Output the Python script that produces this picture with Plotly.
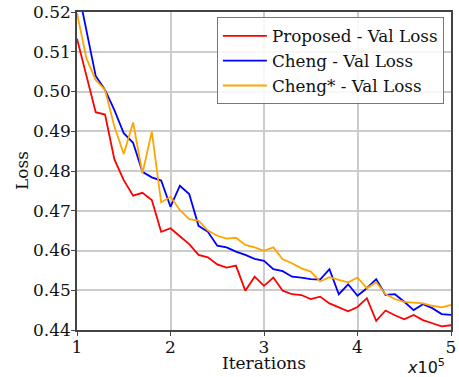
import plotly.graph_objects as go

iterations = [round(1.0 + 0.1 * i, 1) for i in range(41)]

proposed = [0.5133, 0.5040, 0.4948, 0.4942, 0.4829, 0.4777, 0.4738, 0.4745, 0.4727, 0.4647,
            0.4656, 0.4636, 0.4616, 0.4589, 0.4583, 0.4565, 0.4557, 0.4562, 0.4499, 0.4534,
            0.4511, 0.4532, 0.4499, 0.4490, 0.4488, 0.4478, 0.4484, 0.4467, 0.4457, 0.4447,
            0.4458, 0.4480, 0.4423, 0.4449, 0.4437, 0.4427, 0.4438, 0.4425, 0.4417, 0.4409,
            0.4412]

cheng = [0.5270, 0.5155, 0.5039, 0.5004, 0.4953, 0.4895, 0.4871, 0.4798, 0.4784, 0.4776,
         0.4710, 0.4763, 0.4742, 0.4662, 0.4647, 0.4612, 0.4608, 0.4597, 0.4589, 0.4579,
         0.4574, 0.4553, 0.4548, 0.4534, 0.4532, 0.4528, 0.4527, 0.4553, 0.4490, 0.4515,
         0.4486, 0.4505, 0.4528, 0.4488, 0.4490, 0.4471, 0.4450, 0.4465, 0.4455, 0.4440,
         0.4438]

cheng_star = [0.5197, 0.5084, 0.5029, 0.5004, 0.4912, 0.4843, 0.4922, 0.4794, 0.4899, 0.4721,
              0.4735, 0.4702, 0.4679, 0.4675, 0.4650, 0.4637, 0.4630, 0.4632, 0.4614, 0.4608,
              0.4599, 0.4608, 0.4578, 0.4568, 0.4555, 0.4547, 0.4522, 0.4533, 0.4526, 0.4520,
              0.4532, 0.4505, 0.4520, 0.4490, 0.4478, 0.4471, 0.4469, 0.4467, 0.4461, 0.4457,
              0.4463]

series_names = ["Proposed - Val Loss", "Cheng - Val Loss", "Cheng* - Val Loss"]
series_values = [proposed, cheng, cheng_star]
series_colors = ["#ff0000", "#0000ff", "#ffa500"]

x_ticks = [1, 2, 3, 4, 5]
y_ticks = [0.44, 0.45, 0.46, 0.47, 0.48, 0.49, 0.50, 0.51, 0.52]

FONT = "DejaVu Serif"
TXT = "#111111"

fig = go.Figure()
for name, vals, col in zip(series_names, series_values, series_colors):
    fig.add_trace(go.Scatter(x=iterations, y=vals, mode="lines", name=name,
                             line=dict(color=col, width=1.8)))

axis_common = dict(showline=True, linecolor="#444444", linewidth=1.5, mirror=True,
                   showgrid=True, gridcolor="#cccccc", gridwidth=1.5,
                   ticks="outside", ticklen=4, tickcolor="#444444",
                   tickfont=dict(family=FONT, size=17, color=TXT),
                   zeroline=False, automargin=False, ticklabelstandoff=-3)

fig.update_layout(
    width=459, height=377,
    margin=dict(l=77, r=8, t=12, b=47),
    paper_bgcolor="white", plot_bgcolor="white",
    font=dict(family=FONT, size=17, color=TXT),
    xaxis=dict(range=[1, 5], tickvals=x_ticks, ticktext=[str(t) for t in x_ticks],
               **axis_common),
    yaxis=dict(range=[0.44, 0.52], tickvals=y_ticks, ticktext=[f"{t:.2f}" for t in y_ticks],
               **axis_common),
    legend=dict(x=0.374, y=0.983, xanchor="left", yanchor="top",
                bgcolor="rgba(255,255,255,0.85)", bordercolor="#777777", borderwidth=1,
                font=dict(family=FONT, size=16.8, color=TXT), itemwidth=44,
                tracegroupgap=0),
    showlegend=True,
)

fig.add_annotation(text="Iterations", xref="paper", yref="paper",
                   x=0.5, y=-0.104, xanchor="center", yanchor="middle", showarrow=False,
                   font=dict(family=FONT, size=17, color=TXT))
fig.add_annotation(text="Loss", xref="paper", yref="paper", textangle=-90,
                   x=-0.147, y=0.5, xanchor="center", yanchor="middle", showarrow=False,
                   font=dict(family=FONT, size=17, color=TXT))
fig.add_annotation(text="<i>x</i>10<sup>5</sup>", xref="paper", yref="paper",
                   x=0.989, y=-0.115, xanchor="right", yanchor="middle", showarrow=False,
                   font=dict(family="DejaVu Sans", size=16, color=TXT))

fig.write_html("out.html", config={"displayModeBar": False},
               post_script="document.body.style.margin='0';document.body.style.overflow='hidden';")
